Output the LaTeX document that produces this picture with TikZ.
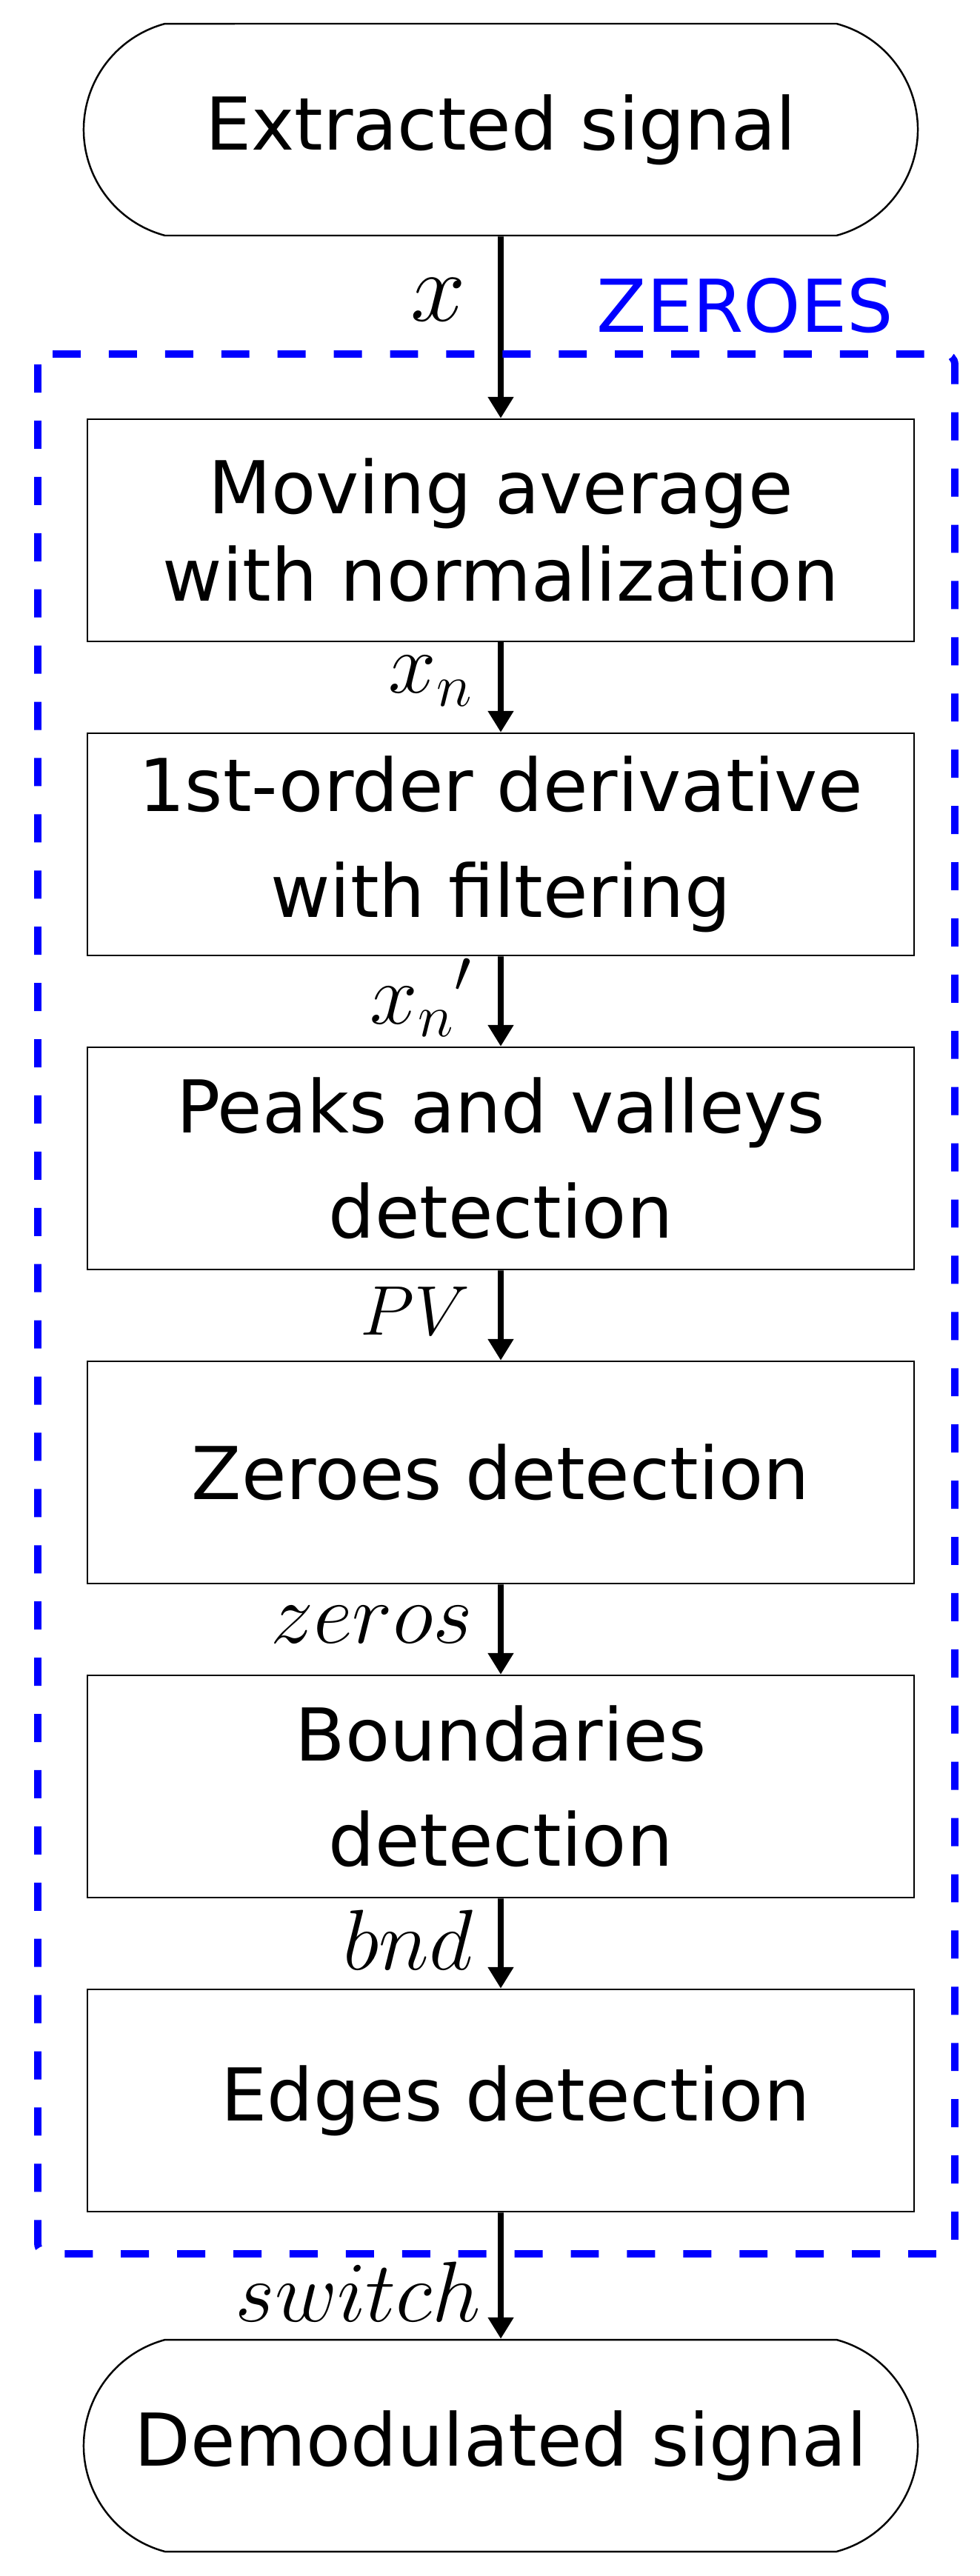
\RequirePackage{fix-cm}
\documentclass[tikz,border=0pt]{standalone}
\usepackage{fontspec}
\newfontfamily\boxfont{DejaVu Sans}
\usetikzlibrary{shapes.misc, arrows.meta, trees}
\tikzset{
	>={Triangle[length=8.2pt, width=9.4pt]}, % Punta de flecha triangular
	process/.style={draw, line width=0.7pt, minimum width=11.16cm, minimum height=3cm,
		align=center, inner sep=0pt, font=\boxfont\fontsize{28}{40.5}\selectfont}, % Bloques de proceso
	terminal/.style={process, rounded rectangle, rounded rectangle arc length=150,
		minimum width=11.26cm, minimum height=2.86cm}, % Inicio y fin
	sig/.style={font=\fontsize{33}{40}\selectfont}, % Etiquetas de las senales
	zeroes frame/.style={draw=blue, line width=2.8pt, dash pattern=on 10.8pt off 10.8pt,
		rounded corners=4pt} % Recuadro del bloque ZEROES
}

\begin{document}
\begin{tikzpicture}[
		level/.style={level distance=4.24cm},
		level 1/.style={level distance=5.41cm},
		level 7/.style={level distance=4.66cm},
		edge from parent/.style={draw, ->, line width=2.2pt}]
	\useasboundingbox (0,0) rectangle (13.23,-34.78);
	\node[terminal] (extracted) at (6.76,-1.75) {Extracted signal}
		child {
			node[process, font=\boxfont\fontsize{28}{33.6}\selectfont] (movavg) {Moving average\\with normalization}
			child {
				node[process] (deriv) {1st-order derivative\\with filtering}
				child {
					node[process] (peaks) {Peaks and valleys\\detection}
					child {
						node[process] (zerodet) {Zeroes detection}
						child {
							node[process] (bounds) {Boundaries\\detection}
							child {
								node[process] (edges) {\hspace*{4mm}Edges detection}
								child {
									node[terminal] (demod) {Demodulated signal}
									edge from parent node[sig, left=1.1mm, pos=0.63] {$switch$}
								}
								edge from parent node[sig, left=2.2mm, pos=0.46] {$bnd$}
							}
							edge from parent node[sig, left=2.2mm, pos=0.45] {$zeros$}
						}
						edge from parent node[sig, font=\fontsize{27}{32}\selectfont, left=2.6mm, pos=0.45] {$PV$}
					}
					edge from parent node[sig, left=2.3mm, pos=0.46] {${x_n}'$}
				}
				edge from parent node[sig, left=2.2mm, pos=0.43] {$x_n$}
			}
			edge from parent node[sig, font=\fontsize{38}{44}\selectfont, left=3.2mm, pos=0.35] {$x$}
		};
	\draw[zeroes frame] (0.51,-4.78) rectangle (12.89,-30.43);
	\node[text=blue, font=\boxfont\fontsize{28}{34}\selectfont, anchor=base] (zeroestitle) at (10.06,-4.48) {ZEROES};
\end{tikzpicture}
\end{document}
